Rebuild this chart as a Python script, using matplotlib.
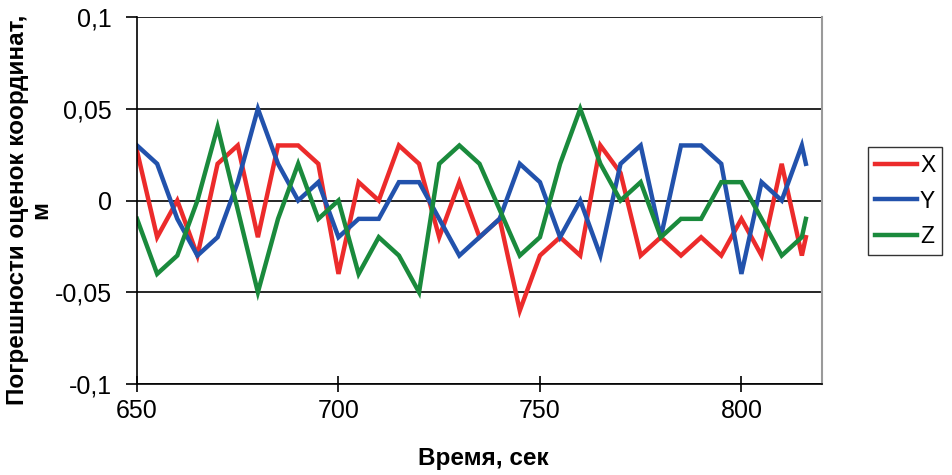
import matplotlib
matplotlib.use('Agg')
from matplotlib import pyplot as plt

plt.rcParams['font.family'] = ['Liberation Sans', 'DejaVu Sans']

# time, s
t = [650, 655, 660, 665, 670, 675, 680, 685, 690, 695,
     700, 705, 710, 715, 720, 725, 730, 735, 740, 745,
     750, 755, 760, 765, 770, 775, 780, 785, 790, 795,
     800, 805, 810, 815, 816]

err_x = [0.027, -0.02, 0.0, -0.03, 0.02, 0.03, -0.02, 0.03, 0.03, 0.02,
         -0.04, 0.01, 0.0, 0.03, 0.02, -0.02, 0.01, -0.02, -0.01, -0.06,
         -0.03, -0.02, -0.03, 0.03, 0.015, -0.03, -0.02, -0.03, -0.02, -0.03,
         -0.01, -0.03, 0.02, -0.03, -0.02]

err_y = [0.03, 0.02, -0.01, -0.03, -0.02, 0.01, 0.05, 0.02, 0.0, 0.01,
         -0.02, -0.01, -0.01, 0.01, 0.01, -0.01, -0.03, -0.02, -0.01, 0.02,
         0.01, -0.02, 0.0, -0.03, 0.02, 0.03, -0.02, 0.03, 0.03, 0.02,
         -0.04, 0.01, 0.0, 0.03, 0.02]

err_z = [-0.01, -0.04, -0.03, 0.0, 0.04, -0.005, -0.05, -0.01, 0.02, -0.01,
         0.0, -0.04, -0.02, -0.03, -0.05, 0.02, 0.03, 0.02, -0.005, -0.03,
         -0.02, 0.02, 0.05, 0.02, 0.0, 0.01, -0.02, -0.01, -0.01, 0.01,
         0.01, -0.01, -0.03, -0.02, -0.01]

series_names = ['X', 'Y', 'Z']
xticks = [650, 700, 750, 800]
yticks = [-0.1, -0.05, 0, 0.05, 0.1]
ytick_labels = ['-0,1', '-0,05', '0', '0,05', '0,1']

W, H = 953, 475
fig = plt.figure(figsize=(W / 100, H / 100), dpi=100)
ax = fig.add_axes([137 / W, 1 - 384 / H, (822 - 137) / W, (384 - 17) / H])

colors = ['#EC2B2B', '#2252AC', '#1A8A3C']
for data, name, c in zip([err_x, err_y, err_z], series_names, colors):
    ax.plot(t, data, color=c, linewidth=3.2, label=name, solid_joinstyle='miter')

ax.set_xlim(650, 820)
ax.set_ylim(-0.1, 0.1)
ax.set_xticks(xticks)
ax.set_yticks(yticks)
ax.set_yticklabels(ytick_labels)
ax.tick_params(axis='both', labelsize=18, colors='black')
ax.tick_params(axis='y', direction='out', length=8, width=1.2, pad=10)
ax.tick_params(axis='x', direction='inout', length=12, width=1.2, pad=5)

ax.yaxis.grid(True, color='black', linewidth=1.2)
ax.set_axisbelow(True)
ax.spines['top'].set_visible(False)
ax.spines['left'].set_linewidth(1.2)
ax.spines['bottom'].set_linewidth(1.2)
ax.spines['right'].set_color('#9A9A9A')
ax.spines['right'].set_linewidth(1.5)

fig.text(29 / W, 1 - 210 / H, 'Погрешности оценок координат,\nм',
         rotation=90, ha='center', va='center', multialignment='center',
         fontsize=17.5, fontweight='bold', linespacing=1.0)
fig.text(483 / W, 1 - 458 / H, 'Время, сек', ha='center', va='center',
         fontsize=17.5, fontweight='bold')

leg = ax.legend(loc='center left', bbox_to_anchor=(868 / W, 1 - 201 / H),
                bbox_transform=fig.transFigure, fontsize=16.5, frameon=True,
                fancybox=False, edgecolor='black', handlelength=1.85,
                handletextpad=0.12, labelspacing=0.55, borderpad=0.3,
                borderaxespad=0)
leg.get_frame().set_linewidth(1.0)

fig.savefig('out.png', dpi=100)
